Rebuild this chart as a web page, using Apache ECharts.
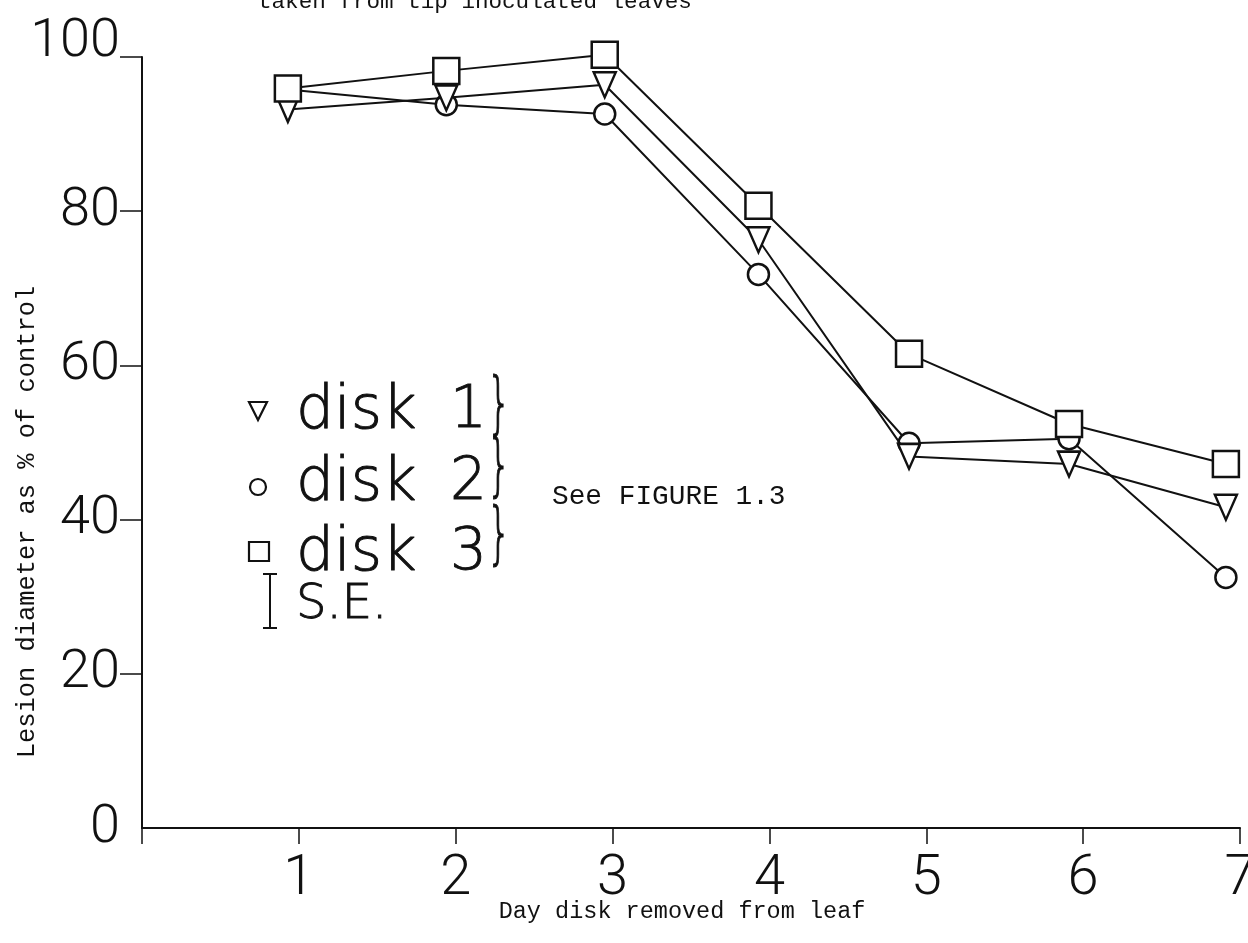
<!DOCTYPE html>
<html>
<head>
<meta charset="utf-8">
<script src="https://cdn.jsdelivr.net/npm/echarts@6/dist/echarts.min.js"></script>
<style>
  html, body { margin: 0; padding: 0; background: #fff; }
  #chart { width: 1248px; height: 943px; }
</style>
</head>
<body>
<div id="chart"></div>
<script>
// Day on which each disk was removed (x value of each plotted point)
const dayX = [0.93, 1.94, 2.95, 3.93, 4.89, 5.91, 6.91];
// Lesion diameter as % of control
const disk1 = [93.2, 94.7, 96.4, 76.3, 48.2, 47.2, 41.6];
const disk2 = [95.8, 93.8, 92.6, 71.8, 49.9, 50.5, 32.5];
const disk3 = [95.9, 98.2, 100.3, 80.7, 61.5, 52.4, 47.2];
const seriesNames = ['disk 1', 'disk 2', 'disk 3'];
const xTickLabels = ['', '1', '2', '3', '4', '5', '6', '7'];
const yTickLabels = ['0', '20', '40', '60', '80', '100'];

const INK = '#111';
const PLOT_FONT = "Roboto, 'Liberation Sans', sans-serif";
const KEY_FONT = "'DejaVu Sans', Roboto, sans-serif";
const TYPE_FONT = "'Liberation Mono', 'DejaVu Sans Mono', monospace";
const TRI_PATH = 'path://M0,0L20,0L10,23Z';

function pairs(vals) { return vals.map((v, i) => [dayX[i], v]); }

function lineSeries(name, vals, symbol, size, z) {
  return {
    name, type: 'line', data: pairs(vals), z,
    symbol, symbolSize: size, clip: false,
    showAllSymbol: true,
    lineStyle: { color: INK, width: 2 },
    itemStyle: { color: '#fff', borderColor: INK, borderWidth: 2.5, opacity: 1 },
    emphasis: { disabled: true }
  };
}

// pen-drawn lettering for the key: thin face with a slight outline
function penText(x, y, text, size, extra) {
  return Object.assign({
    type: 'text', x, y,
    style: {
      text, fill: INK, font: `200 ${size}px ${KEY_FONT}`, verticalAlign: 'middle',
      stroke: INK, lineWidth: 0.9
    }
  }, extra || {});
}

const chart = echarts.init(document.getElementById('chart'), null, { renderer: 'canvas' });

const legendRows = [
  { y: 412, braceY: 408, shape: { type: 'polygon', shape: { points: [[249, 402], [267, 402], [258, 420]] } } },
  { y: 484, braceY: 470, shape: { type: 'circle', shape: { cx: 258, cy: 487, r: 8 } } },
  { y: 554, braceY: 538, shape: { type: 'rect', shape: { x: 249, y: 542, width: 20, height: 19 } } }
];

const graphics = [];
legendRows.forEach((row, i) => {
  const [word, num] = seriesNames[i].split(' ');
  graphics.push(Object.assign({}, row.shape, {
    style: { fill: '#fff', stroke: INK, lineWidth: 2.2 }
  }));
  graphics.push(penText(296, row.y, word, 60));
  graphics.push(penText(450, row.y, num, 58));
  graphics.push(penText(487, row.braceY, '}', 50, { scaleX: 0.75, scaleY: 1.35 }));
});

// standard error bar key
graphics.push({
  type: 'polyline',
  shape: { points: [[263, 574], [277, 574]] },
  style: { stroke: INK, lineWidth: 2 }
}, {
  type: 'polyline',
  shape: { points: [[270, 574], [270, 628]] },
  style: { stroke: INK, lineWidth: 2 }
}, {
  type: 'polyline',
  shape: { points: [[263, 628], [277, 628]] },
  style: { stroke: INK, lineWidth: 2 }
}, penText(296, 606, 'S.E.', 48));

// captions in typewriter face
graphics.push({
  type: 'text', x: 258, y: 14,
  style: { text: 'taken from tip inoculated leaves', fill: INK, font: `22.6px ${TYPE_FONT}`, verticalAlign: 'bottom' }
}, {
  type: 'text', x: 552, y: 497,
  style: { text: 'See FIGURE 1.3', fill: INK, font: `27.8px ${TYPE_FONT}`, verticalAlign: 'middle' }
}, {
  type: 'text', x: 27, y: 522, rotation: Math.PI / 2,
  style: { text: 'Lesion diameter as % of control', fill: INK, font: `25.4px ${TYPE_FONT}`, align: 'center', verticalAlign: 'middle' }
}, {
  type: 'text', x: 682, y: 912,
  style: { text: 'Day disk removed from leaf', fill: INK, font: `23.5px ${TYPE_FONT}`, align: 'center', verticalAlign: 'middle' }
});

chart.setOption({
  animation: false,
  backgroundColor: '#fff',
  grid: { left: 142, right: 8, top: 57, bottom: 115, containLabel: false, outerBoundsMode: 'none' },
  xAxis: {
    type: 'value', min: 0, max: 7, interval: 1,
    axisLine: { show: true, onZero: false, lineStyle: { color: INK, width: 2 } },
    axisTick: { show: true, inside: false, length: 16, lineStyle: { color: INK, width: 1.5 } },
    axisLabel: {
      margin: 24, color: INK, fontFamily: PLOT_FONT, fontWeight: 300, fontSize: 56,
      formatter: v => xTickLabels[Math.round(v)] || ''
    },
    splitLine: { show: false }
  },
  yAxis: {
    type: 'value', min: 0, max: 100, interval: 20,
    axisLine: { show: true, lineStyle: { color: INK, width: 2 } },
    axisTick: {
      show: true, inside: false, length: 22, lineStyle: { color: INK, width: 1.5 },
      customValues: [20, 40, 60, 80, 100]
    },
    axisLabel: {
      margin: 22, color: INK, fontFamily: PLOT_FONT, fontWeight: 300, fontSize: 54,
      formatter: v => {
        const t = yTickLabels[Math.round(v / 20)];
        return v === 100 ? `{top|${t}}` : t;
      },
      rich: {
        top: { fontFamily: PLOT_FONT, fontWeight: 300, fontSize: 54, color: INK, padding: [0, 0, 30, 0] }
      }
    },
    splitLine: { show: false }
  },
  series: [
    lineSeries(seriesNames[1], disk2, 'circle', 21, 2),
    lineSeries(seriesNames[0], disk1, TRI_PATH, [22, 25], 3),
    lineSeries(seriesNames[2], disk3, 'rect', [26, 26], 4)
  ],
  graphic: graphics
});
</script>
</body>
</html>
